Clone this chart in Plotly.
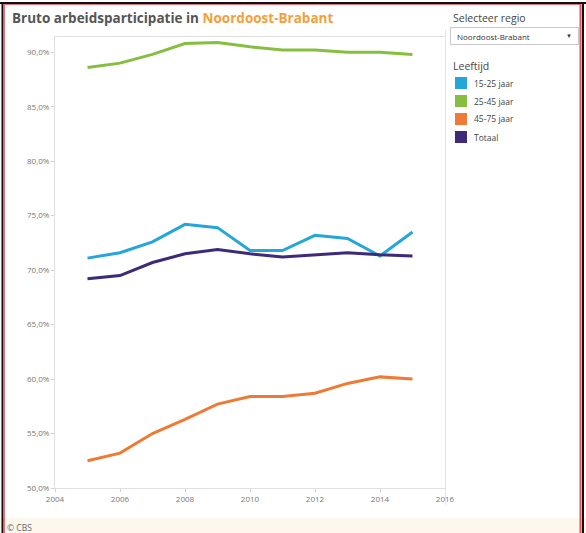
import plotly.graph_objects as go

years = list(range(2005, 2016))
series_names = ["15-25 jaar", "25-45 jaar", "45-75 jaar", "Totaal"]
v_15_25 = [71.1, 71.6, 72.6, 74.2, 73.9, 71.8, 71.8, 73.2, 72.9, 71.3, 73.5]
v_25_45 = [88.6, 89.0, 89.8, 90.8, 90.9, 90.5, 90.2, 90.2, 90.0, 90.0, 89.8]
v_45_75 = [52.5, 53.2, 55.0, 56.3, 57.7, 58.4, 58.4, 58.7, 59.6, 60.2, 60.0]
v_totaal = [69.2, 69.5, 70.7, 71.5, 71.9, 71.5, 71.2, 71.4, 71.6, 71.4, 71.3]
series_values = [v_15_25, v_25_45, v_45_75, v_totaal]
colors = ["#25a6d9", "#86bf3f", "#ee7b35", "#3d2a78"]
y_ticks = [50, 55, 60, 65, 70, 75, 80, 85, 90]
y_tick_labels = ["50,0%", "55,0%", "60,0%", "65,0%", "70,0%", "75,0%", "80,0%", "85,0%", "90,0%"]
x_ticks = [2004, 2006, 2008, 2010, 2012, 2014, 2016]

W, H = 586, 533
L, R, T, B = 55, 445, 37, 488
FONT = "Open Sans"

def px(x):
    return (x - L) / (R - L)

def py(y):
    return (B - y) / (B - T)

fig = go.Figure()
for name, vals, col in zip(series_names, series_values, colors):
    fig.add_trace(go.Scatter(x=years, y=vals, mode="lines", name=name,
                             line=dict(color=col, width=3), showlegend=False))

shapes = []
annotations = []

# bottom beige strip
shapes.append(dict(type="rect", xref="paper", yref="paper", x0=px(0), x1=px(W),
                   y0=py(533), y1=py(518), fillcolor="#fdf7ee", line=dict(width=0), layer="below"))
# vertical divider
shapes.append(dict(type="line", xref="paper", yref="paper", x0=px(445.5), x1=px(445.5),
                   y0=py(505), y1=py(30), line=dict(color="#e4e4e4", width=1)))
# frame lines
shapes.append(dict(type="line", xref="paper", yref="paper", x0=px(0), x1=px(W), y0=py(3), y1=py(3),
                   line=dict(color="#111111", width=2)))
shapes.append(dict(type="line", xref="paper", yref="paper", x0=px(2.5), x1=px(2.5), y0=py(533), y1=py(2),
                   line=dict(color="#111111", width=2)))
shapes.append(dict(type="line", xref="paper", yref="paper", x0=px(4.5), x1=px(4.5), y0=py(533), y1=py(4),
                   line=dict(color="#e8727a", width=1)))
shapes.append(dict(type="line", xref="paper", yref="paper", x0=px(5), x1=px(581), y0=py(4.5), y1=py(4.5),
                   line=dict(color="#e8727a", width=1)))
shapes.append(dict(type="line", xref="paper", yref="paper", x0=px(580.5), x1=px(580.5), y0=py(533), y1=py(4),
                   line=dict(color="#e8505b", width=2)))
shapes.append(dict(type="line", xref="paper", yref="paper", x0=px(583), x1=px(583), y0=py(533), y1=py(2),
                   line=dict(color="#111111", width=2)))

# title
annotations.append(dict(xref="paper", yref="paper", x=px(10), y=py(18), xanchor="left", yanchor="middle",
                        showarrow=False,
                        text="<b>Bruto arbeidsparticipatie in <span style='color:#f4a03c'>Noordoost-Brabant</span></b>",
                        font=dict(family=FONT, size=13.5, color="#555555")))
# selector
annotations.append(dict(xref="paper", yref="paper", x=px(451), y=py(18), xanchor="left", yanchor="middle",
                        showarrow=False, text="Selecteer regio",
                        font=dict(family=FONT, size=10.5, color="#444444")))
shapes.append(dict(type="rect", xref="paper", yref="paper", x0=px(450.5), x1=px(578.5), y0=py(44.5), y1=py(27.5),
                   line=dict(color="#c8c8c8", width=1), fillcolor="white"))
annotations.append(dict(xref="paper", yref="paper", x=px(455), y=py(36), xanchor="left", yanchor="middle",
                        showarrow=False, text="Noordoost-Brabant",
                        font=dict(family=FONT, size=8, color="#333333")))
annotations.append(dict(xref="paper", yref="paper", x=px(569), y=py(36), xanchor="center", yanchor="middle",
                        showarrow=False, text="▼",
                        font=dict(family=FONT, size=6, color="#333333")))
# legend
annotations.append(dict(xref="paper", yref="paper", x=px(451), y=py(66), xanchor="left", yanchor="middle",
                        showarrow=False, text="Leeftijd",
                        font=dict(family=FONT, size=10.5, color="#444444")))
for i, (name, col) in enumerate(zip(series_names, colors)):
    yc = 83 + 18 * i
    shapes.append(dict(type="rect", xref="paper", yref="paper", x0=px(455), x1=px(467),
                       y0=py(yc + 6), y1=py(yc - 6), fillcolor=col, line=dict(width=0)))
    annotations.append(dict(xref="paper", yref="paper", x=px(472), y=py(yc), xanchor="left", yanchor="middle",
                            showarrow=False, text=name,
                            font=dict(family=FONT, size=8.5, color="#444444")))
# footer
annotations.append(dict(xref="paper", yref="paper", x=px(5), y=py(527), xanchor="left", yanchor="middle",
                        showarrow=False, text="© CBS",
                        font=dict(family=FONT, size=8.5, color="#666666")))

fig.update_layout(
    width=W, height=H,
    margin=dict(l=L, r=W - R, t=T, b=H - B, pad=0),
    paper_bgcolor="white", plot_bgcolor="white",
    showlegend=False,
    shapes=shapes, annotations=annotations,
    font=dict(family=FONT),
)
fig.update_xaxes(range=[2004, 2016], tickvals=x_ticks, showgrid=False, zeroline=False,
                 showline=True, mirror=True, linecolor="#e0e0e0", linewidth=1,
                 ticks="outside", ticklen=3, tickcolor="#d0d0d0",
                 tickfont=dict(family=FONT, size=8, color="#777777"))
fig.update_yaxes(range=[50, 91.4], tickvals=y_ticks, ticktext=y_tick_labels,
                 showgrid=False, zeroline=False,
                 showline=True, mirror=True, linecolor="#e0e0e0", linewidth=1,
                 ticks="outside", ticklen=3, tickcolor="#d0d0d0",
                 tickfont=dict(family=FONT, size=8, color="#777777"))

fig.write_html("out.html")
